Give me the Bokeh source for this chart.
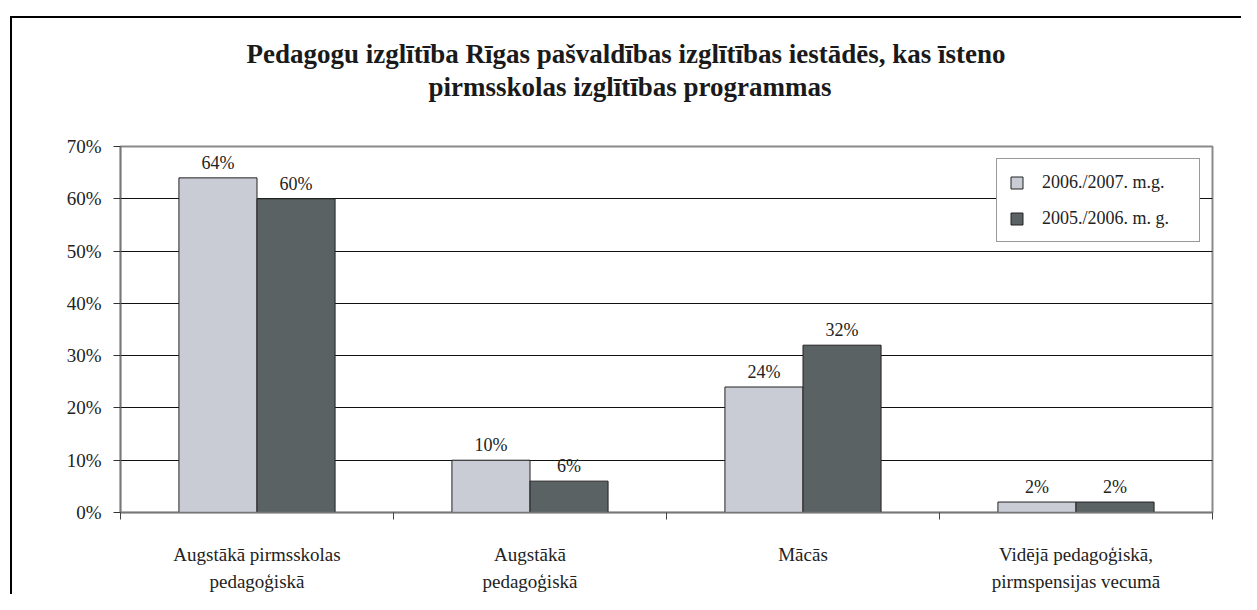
from bokeh.plotting import figure
from bokeh.models import (Range1d, FixedTicker, ColumnDataSource, Legend, LegendItem, Title)
from bokeh.core.properties import value
from bokeh.embed import file_html
from bokeh.resources import INLINE

categories = ["Augstākā pirmsskolas\npedagoģiskā", "Augstākā\npedagoģiskā", "Mācās",
              "Vidējā pedagoģiskā,\npirmspensijas vecumā"]
series_names = ["2006./2007. m.g.", "2005./2006. m. g."]
values_2006_2007 = [64, 10, 24, 2]
values_2005_2006 = [60, 6, 32, 2]
y_ticks = [0, 10, 20, 30, 40, 50, 60, 70]
title_lines = ["Pedagogu izglītība Rīgas pašvaldības izglītības iestādēs, kas īsteno",
               "pirmsskolas izglītības programmas"]

FONT = "Liberation Serif"
LIGHT = "#c9ccd4"
DARK = "#5b6264"
BAR_W = 0.286

centers = [i + 0.5 for i in range(len(categories))]
src_a = ColumnDataSource(dict(x=[c - BAR_W / 2 for c in centers], top=values_2006_2007,
                              lab=[f"{v}%" for v in values_2006_2007]))
src_b = ColumnDataSource(dict(x=[c + BAR_W / 2 for c in centers], top=values_2005_2006,
                              lab=[f"{v}%" for v in values_2005_2006]))

frame_css = {
    "background-image": "linear-gradient(#000,#000), linear-gradient(#000,#000)",
    "background-size": "2px 100%, 100% 2px",
    "background-position": "10px 16px, 10px 16px",
    "background-repeat": "no-repeat",
    "background-color": "#ffffff",
}

p = figure(width=1241, height=594, output_backend="svg", toolbar_location=None,
           x_range=Range1d(0, len(categories)), y_range=Range1d(0, y_ticks[-1]),
           min_border_left=120, min_border_right=29, min_border_top=146, min_border_bottom=79,
           styles=frame_css)
p.border_fill_alpha = 0
p.background_fill_color = "#ffffff"

# title: two lines above an invisible spacer, each left-aligned with an offset
title_style = dict(text_font=FONT, text_font_size="27px", text_font_style="bold",
                   text_color="#1a1a1a", align="left")
p.add_layout(Title(text="\u00a0", text_font_size="1px", standoff=42), "above")
p.add_layout(Title(text=title_lines[1], offset=308, standoff=0, **title_style), "above")
p.add_layout(Title(text=title_lines[0], offset=126, standoff=2, **title_style), "above")

ra = p.vbar(x="x", top="top", width=BAR_W, source=src_a, fill_color=LIGHT,
            line_color="#222222", line_width=1)
rb = p.vbar(x="x", top="top", width=BAR_W, source=src_b, fill_color=DARK,
            line_color="#222222", line_width=1)

for s in (src_a, src_b):
    p.text(x="x", y="top", text="lab", source=s, text_align="center",
           text_baseline="bottom", y_offset=-5, text_font=value(FONT),
           text_font_size="18px", text_color="#222222")

# axes
p.xaxis.ticker = FixedTicker(ticks=centers, minor_ticks=list(range(len(categories) + 1)))
p.xaxis.major_label_overrides = {c: lab for c, lab in zip(centers, categories)}
p.xaxis.major_tick_out = 0
p.xaxis.major_tick_in = 0
p.xaxis.minor_tick_out = 7
p.xaxis.minor_tick_in = 0
p.xaxis.minor_tick_line_color = "#444444"
p.xaxis.axis_line_color = "#777777"
p.xaxis.axis_line_width = 1.5
p.xaxis.major_label_standoff = 24
p.xaxis.major_label_text_font = FONT
p.xaxis.major_label_text_font_size = "19px"
p.xaxis.major_label_text_color = "#222222"
p.xaxis.major_label_text_line_height = 1.3

p.yaxis.ticker = FixedTicker(ticks=y_ticks, minor_ticks=[])
p.yaxis.major_label_overrides = {v: f"{v}%" for v in y_ticks}
p.yaxis.major_tick_out = 7
p.yaxis.major_tick_in = 0
p.yaxis.major_tick_line_color = "#333333"
p.yaxis.axis_line_color = "#777777"
p.yaxis.axis_line_width = 1.5
p.yaxis.major_label_standoff = 12
p.yaxis.major_label_text_font = FONT
p.yaxis.major_label_text_font_size = "19px"
p.yaxis.major_label_text_color = "#222222"

p.xgrid.grid_line_color = None
p.ygrid.grid_line_color = "#111111"
p.ygrid.grid_line_width = 1
p.ygrid.ticker = FixedTicker(ticks=y_ticks[1:-1])
p.outline_line_color = "#8a8a8a"
p.outline_line_width = 2

legend = Legend(items=[LegendItem(label=series_names[0], renderers=[ra]),
                       LegendItem(label=series_names[1], renderers=[rb])],
                location="top_right", margin=12, padding=12, spacing=14,
                glyph_width=15, glyph_height=15, label_height=22, label_width=145,
                label_standoff=18, label_text_font=FONT, label_text_font_size="18px",
                label_text_color="#222222", border_line_color="#333333",
                border_line_width=1.5, background_fill_alpha=1)
p.add_layout(legend)

open("out.html", "w").write(file_html(p, INLINE))
